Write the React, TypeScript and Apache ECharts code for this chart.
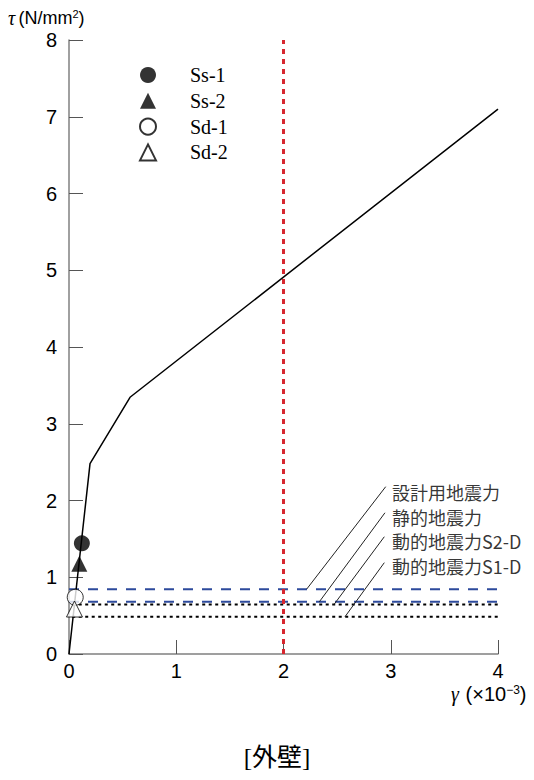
import React, { useEffect, useRef } from "react";
import * as echarts from "echarts";

// Skeleton curve (shear stress τ vs shear strain γ)
const skeletonGamma = [0, 0.196, 0.569, 4.0];
const skeletonTau = [0, 2.48, 3.345, 7.1];

// Response points
const responseNames = ["Ss-1", "Ss-2", "Sd-1", "Sd-2"];
const responseGamma = [0.12, 0.096, 0.058, 0.051];
const responseTau = [1.442, 1.177, 0.739, 0.586];
const responseSymbols = ["circle", "triangle", "circle", "triangle"];
const responseFilled = [true, true, false, false];

// Seismic force levels
const forceNames = ["設計用地震力", "静的地震力", "動的地震力S2-D", "動的地震力S1-D"];
const forceTau = [0.845, 0.68, 0.645, 0.485];
const forceStartGamma = [0, 0, 0.03, 0.03];
const forceEndGamma = [4, 4, 4, 4];
const forceColors = ["#2d4a9c", "#2d4a9c", "#000000", "#000000"];
const forceDash = [[10, 9], [10, 9], [3, 3.5], [3, 3.5]];

// Leader lines for the force labels
const leaderFromGamma = [2.216, 2.334, 2.471, 2.573];
const leaderToGamma = [2.953, 2.946, 2.94, 2.94];
const leaderToTau = [2.18, 1.84, 1.528, 1.19];
const labelGamma = [3.012, 3.012, 3.012, 3.012];
const labelTau = [2.111, 1.785, 1.472, 1.147];

// Design limit strain
const limitGamma = 2.0;

// Axes
const xMin = 0, xMax = 4, xStep = 1;
const yMin = 0, yMax = 8, yStep = 1;

const narrow = "'Liberation Sans Narrow', 'Arial Narrow', 'Liberation Sans', sans-serif";
const serif = "'Liberation Serif', 'Times New Roman', serif";
const gothic = "'Noto Sans CJK JP', sans-serif";

export default function App() {
  const ref = useRef<HTMLDivElement>(null);
  useEffect(() => {
    if (!ref.current) return;
    const chart = echarts.init(ref.current, null, { renderer: "svg" });

    const series: any[] = [];

    forceNames.forEach((n, i) => {
      series.push({
        name: n,
        type: "line",
        data: [
          [forceStartGamma[i], forceTau[i]],
          [forceEndGamma[i], forceTau[i]],
        ],
        symbol: "none",
        silent: true,
        z: 2,
        lineStyle: { color: forceColors[i], width: 2, type: forceDash[i] },
      });
      series.push({
        name: n + "-leader",
        type: "line",
        data: [
          [leaderFromGamma[i], forceTau[i]],
          [leaderToGamma[i], leaderToTau[i]],
        ],
        symbol: "none",
        silent: true,
        z: 3,
        lineStyle: { color: "#222", width: 1 },
      });
    });

    series.push({
      name: "labels",
      type: "scatter",
      symbolSize: 0,
      silent: true,
      data: forceNames.map((n, i) => ({ name: n, value: [labelGamma[i], labelTau[i]] })),
      label: {
        show: true,
        position: "right",
        distance: 0,
        formatter: "{b}",
        fontFamily: gothic,
        fontSize: 18,
        color: "#000",
      },
    });

    series.push({
      name: "limit",
      type: "line",
      data: [
        [limitGamma, yMin],
        [limitGamma, yMax],
      ],
      symbol: "none",
      silent: true,
      z: 4,
      lineStyle: { color: "#d7262e", width: 3, type: [5, 5] },
    });

    series.push({
      name: "skeleton",
      type: "line",
      data: skeletonGamma.map((g, i) => [g, skeletonTau[i]]),
      symbol: "none",
      silent: true,
      z: 5,
      lineStyle: { color: "#000", width: 1.5 },
    });

    responseNames.forEach((n, i) => {
      series.push({
        name: n,
        type: "scatter",
        symbol: responseSymbols[i],
        symbolSize: 16,
        z: 10,
        data: [[responseGamma[i], responseTau[i]]],
        itemStyle: responseFilled[i]
          ? { color: "#000" }
          : { color: "#fff", borderColor: "#000", borderWidth: 1 },
      });
    });

    chart.setOption({
      animation: false,
      grid: { left: 69, right: 36, top: 40, bottom: 126 },
      legend: {
        data: responseNames,
        orient: "vertical",
        left: 134,
        top: 60,
        itemWidth: 16,
        itemHeight: 16,
        itemGap: 5.8,
        selectedMode: false,
        textStyle: { fontFamily: serif, fontSize: 20, color: "#000", padding: [0, 0, 0, 29] },
      },
      xAxis: {
        type: "value",
        min: xMin,
        max: xMax,
        interval: xStep,
        axisLine: { lineStyle: { color: "#808080", width: 1.5 } },
        axisTick: { inside: true, length: 14, lineStyle: { color: "#555", width: 1 } },
        axisLabel: { margin: 7, fontSize: 20, lineHeight: 20, fontFamily: narrow, color: "#000" },
        splitLine: { show: false },
      },
      yAxis: {
        type: "value",
        min: yMin,
        max: yMax,
        interval: yStep,
        axisLine: { lineStyle: { color: "#808080", width: 1.5 } },
        axisTick: { inside: true, length: 14, lineStyle: { color: "#555", width: 1 } },
        axisLabel: { margin: 12, fontSize: 20, fontFamily: narrow, color: "#000" },
        splitLine: { show: false },
      },
      graphic: [
        {
          type: "text",
          left: 8,
          top: 8,
          style: {
            text: "{t|τ} {s|(N/mm}{p|2}{s|)}",
            rich: {
              t: { fontFamily: serif, fontStyle: "italic", fontSize: 20, fill: "#000" },
              s: { fontFamily: narrow, fontSize: 18, fill: "#000" },
              p: { fontFamily: narrow, fontSize: 11, fill: "#000", verticalAlign: "top" },
            },
          },
        },
        {
          type: "text",
          left: 451,
          top: 684,
          style: {
            text: "{t|γ}  {s|(×10}{p|−3}{s|)}",
            rich: {
              t: { fontFamily: serif, fontStyle: "italic", fontSize: 20, lineHeight: 20, fill: "#000" },
              s: { fontFamily: narrow, fontSize: 20, lineHeight: 20, fill: "#000" },
              p: { fontFamily: narrow, fontSize: 12, fill: "#000", verticalAlign: "top" },
            },
          },
        },
        {
          type: "text",
          x: 277,
          y: 757,
          style: {
            text: "[外壁]",
            fontFamily: "'Liberation Serif', 'Noto Sans CJK JP', serif",
            fontSize: 25,
            fill: "#000",
            textAlign: "center",
            textVerticalAlign: "middle",
          },
        },
      ],
      series,
    });

    return () => chart.dispose();
  }, []);

  return (
    <div
      ref={ref}
      style={{ position: "absolute", left: 0, top: 0, width: 534, height: 780, background: "#fff" }}
    />
  );
}
